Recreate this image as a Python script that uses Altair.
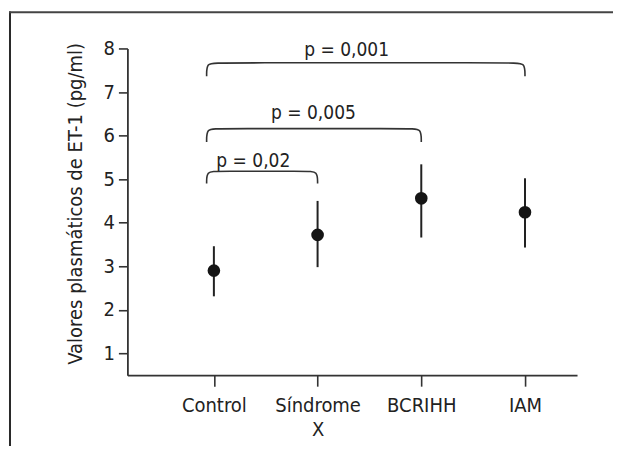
import json
import altair as alt
import pandas as pd

# ---- data ----
groups = ["Control", "Síndrome X", "BCRIHH", "IAM"]
group_lines = [["Control"], ["Síndrome", "X"], ["BCRIHH"], ["IAM"]]
means = [2.90, 3.72, 4.56, 4.24]
lows = [2.31, 2.98, 3.66, 3.43]
highs = [3.46, 4.50, 5.34, 5.02]

p_labels = ["p = 0,02", "p = 0,005", "p = 0,001"]
br_from = [0, 0, 0]
br_to = [1, 2, 3]
br_top = [5.18, 6.16, 7.67]
br_foot = [4.90, 5.85, 7.36]
lab_x = [0.38, 0.96, 1.28]
lab_y = [5.28, 6.37, 7.82]

FONT = "Liberation Sans Narrow, DejaVu Sans Condensed, Arial Narrow, sans-serif"
INK = "#222222"
W, H = 450, 327

df = pd.DataFrame({"i": list(range(len(groups))), "group": groups,
                   "mean": means, "lo": lows, "hi": highs})

# bracket paths (annotation geometry built from bracket arrays)
rows = []
left_shift, corner = 0.07, 0.10
for b in range(len(p_labels)):
    x0 = br_from[b] - left_shift
    x1 = br_to[b]
    pts = [(x0, br_foot[b]), (x0, br_top[b]), (x0 + corner, br_top[b]),
           (x1 - corner, br_top[b]), (x1, br_top[b]), (x1, br_foot[b])]
    for k, (px, py) in enumerate(pts):
        rows.append({"b": b, "k": k, "x": px, "y": py})
br_df = pd.DataFrame(rows)
lab_df = pd.DataFrame({"x": lab_x, "y": lab_y, "t": p_labels})

xscale = alt.Scale(domain=[-0.834, 3.502], nice=False, zero=False)
yscale = alt.Scale(domain=[0.5, 8], nice=False, zero=False)

yvals = [v / 2 for v in range(2, 17)]
xaxis = alt.Axis(values=list(range(len(groups))),
                 labelExpr=json.dumps(group_lines, ensure_ascii=False) + "[datum.value]",
                 title=None, grid=False, tickSize=11, tickWidth=1.6, tickColor="#333",
                 domainColor="#333", domainWidth=1.8, labelFont=FONT, labelFontSize=20,
                 labelColor=INK, labelPadding=9, labelLineHeight=24)
yaxis = alt.Axis(values=yvals, format="d",
                 labelExpr="datum.value % 1 === 0 ? datum.label : ''",
                 title="Valores plasmáticos de ET-1 (pg/ml)", grid=False, tickSize=9,
                 tickWidth=1.6, tickColor="#333", domainColor="#333", domainWidth=1.8,
                 labelFont=FONT, labelFontSize=20, labelColor=INK, labelPadding=4,
                 titleFont=FONT, titleFontSize=20, titleFontWeight="normal",
                 titleColor=INK, titleAngle=-90, titleX=-46, titleY=155,
                 titleAlign="center", titleBaseline="alphabetic")

base = alt.Chart(df)

err = base.mark_rule(color=INK, strokeWidth=2).encode(
    x=alt.X("i:Q", scale=xscale, axis=xaxis),
    y=alt.Y("lo:Q", scale=yscale, axis=yaxis),
    y2="hi:Q",
)
dots = base.mark_circle(color="#151515", opacity=1, size=160).encode(
    x=alt.X("i:Q", scale=xscale),
    y=alt.Y("mean:Q", scale=yscale),
)
brackets = alt.Chart(br_df).mark_line(color="#333", strokeWidth=1.6,
                                      interpolate="basis").encode(
    x=alt.X("x:Q", scale=xscale),
    y=alt.Y("y:Q", scale=yscale),
    detail="b:N",
    order="k:Q",
)
labels = alt.Chart(lab_df).mark_text(font=FONT, fontSize=19, color=INK,
                                     align="center", baseline="alphabetic").encode(
    x=alt.X("x:Q", scale=xscale),
    y=alt.Y("y:Q", scale=yscale),
    text="t:N",
)

one = pd.DataFrame({"a": [0]})
frame_v = alt.Chart(one).mark_rule(color="#2a2a2a", strokeWidth=2).encode(
    x=alt.value(-117.5), y=alt.value(-37), y2=alt.value(H + 80))
frame_h = alt.Chart(one).mark_rule(color="#444", strokeWidth=2).encode(
    x=alt.value(-118.5), x2=alt.value(W + 40), y=alt.value(-36.3))

chart = alt.layer(frame_v, frame_h, err, dots, brackets, labels).properties(
    width=W, height=H,
    autosize=alt.AutoSizeParams(type="none"),
    padding={"left": 119.5, "top": 40.3, "right": 36, "bottom": 71},
).configure_view(stroke=None)

chart.save("out.html", embed_options={"renderer": "svg", "actions": False})
